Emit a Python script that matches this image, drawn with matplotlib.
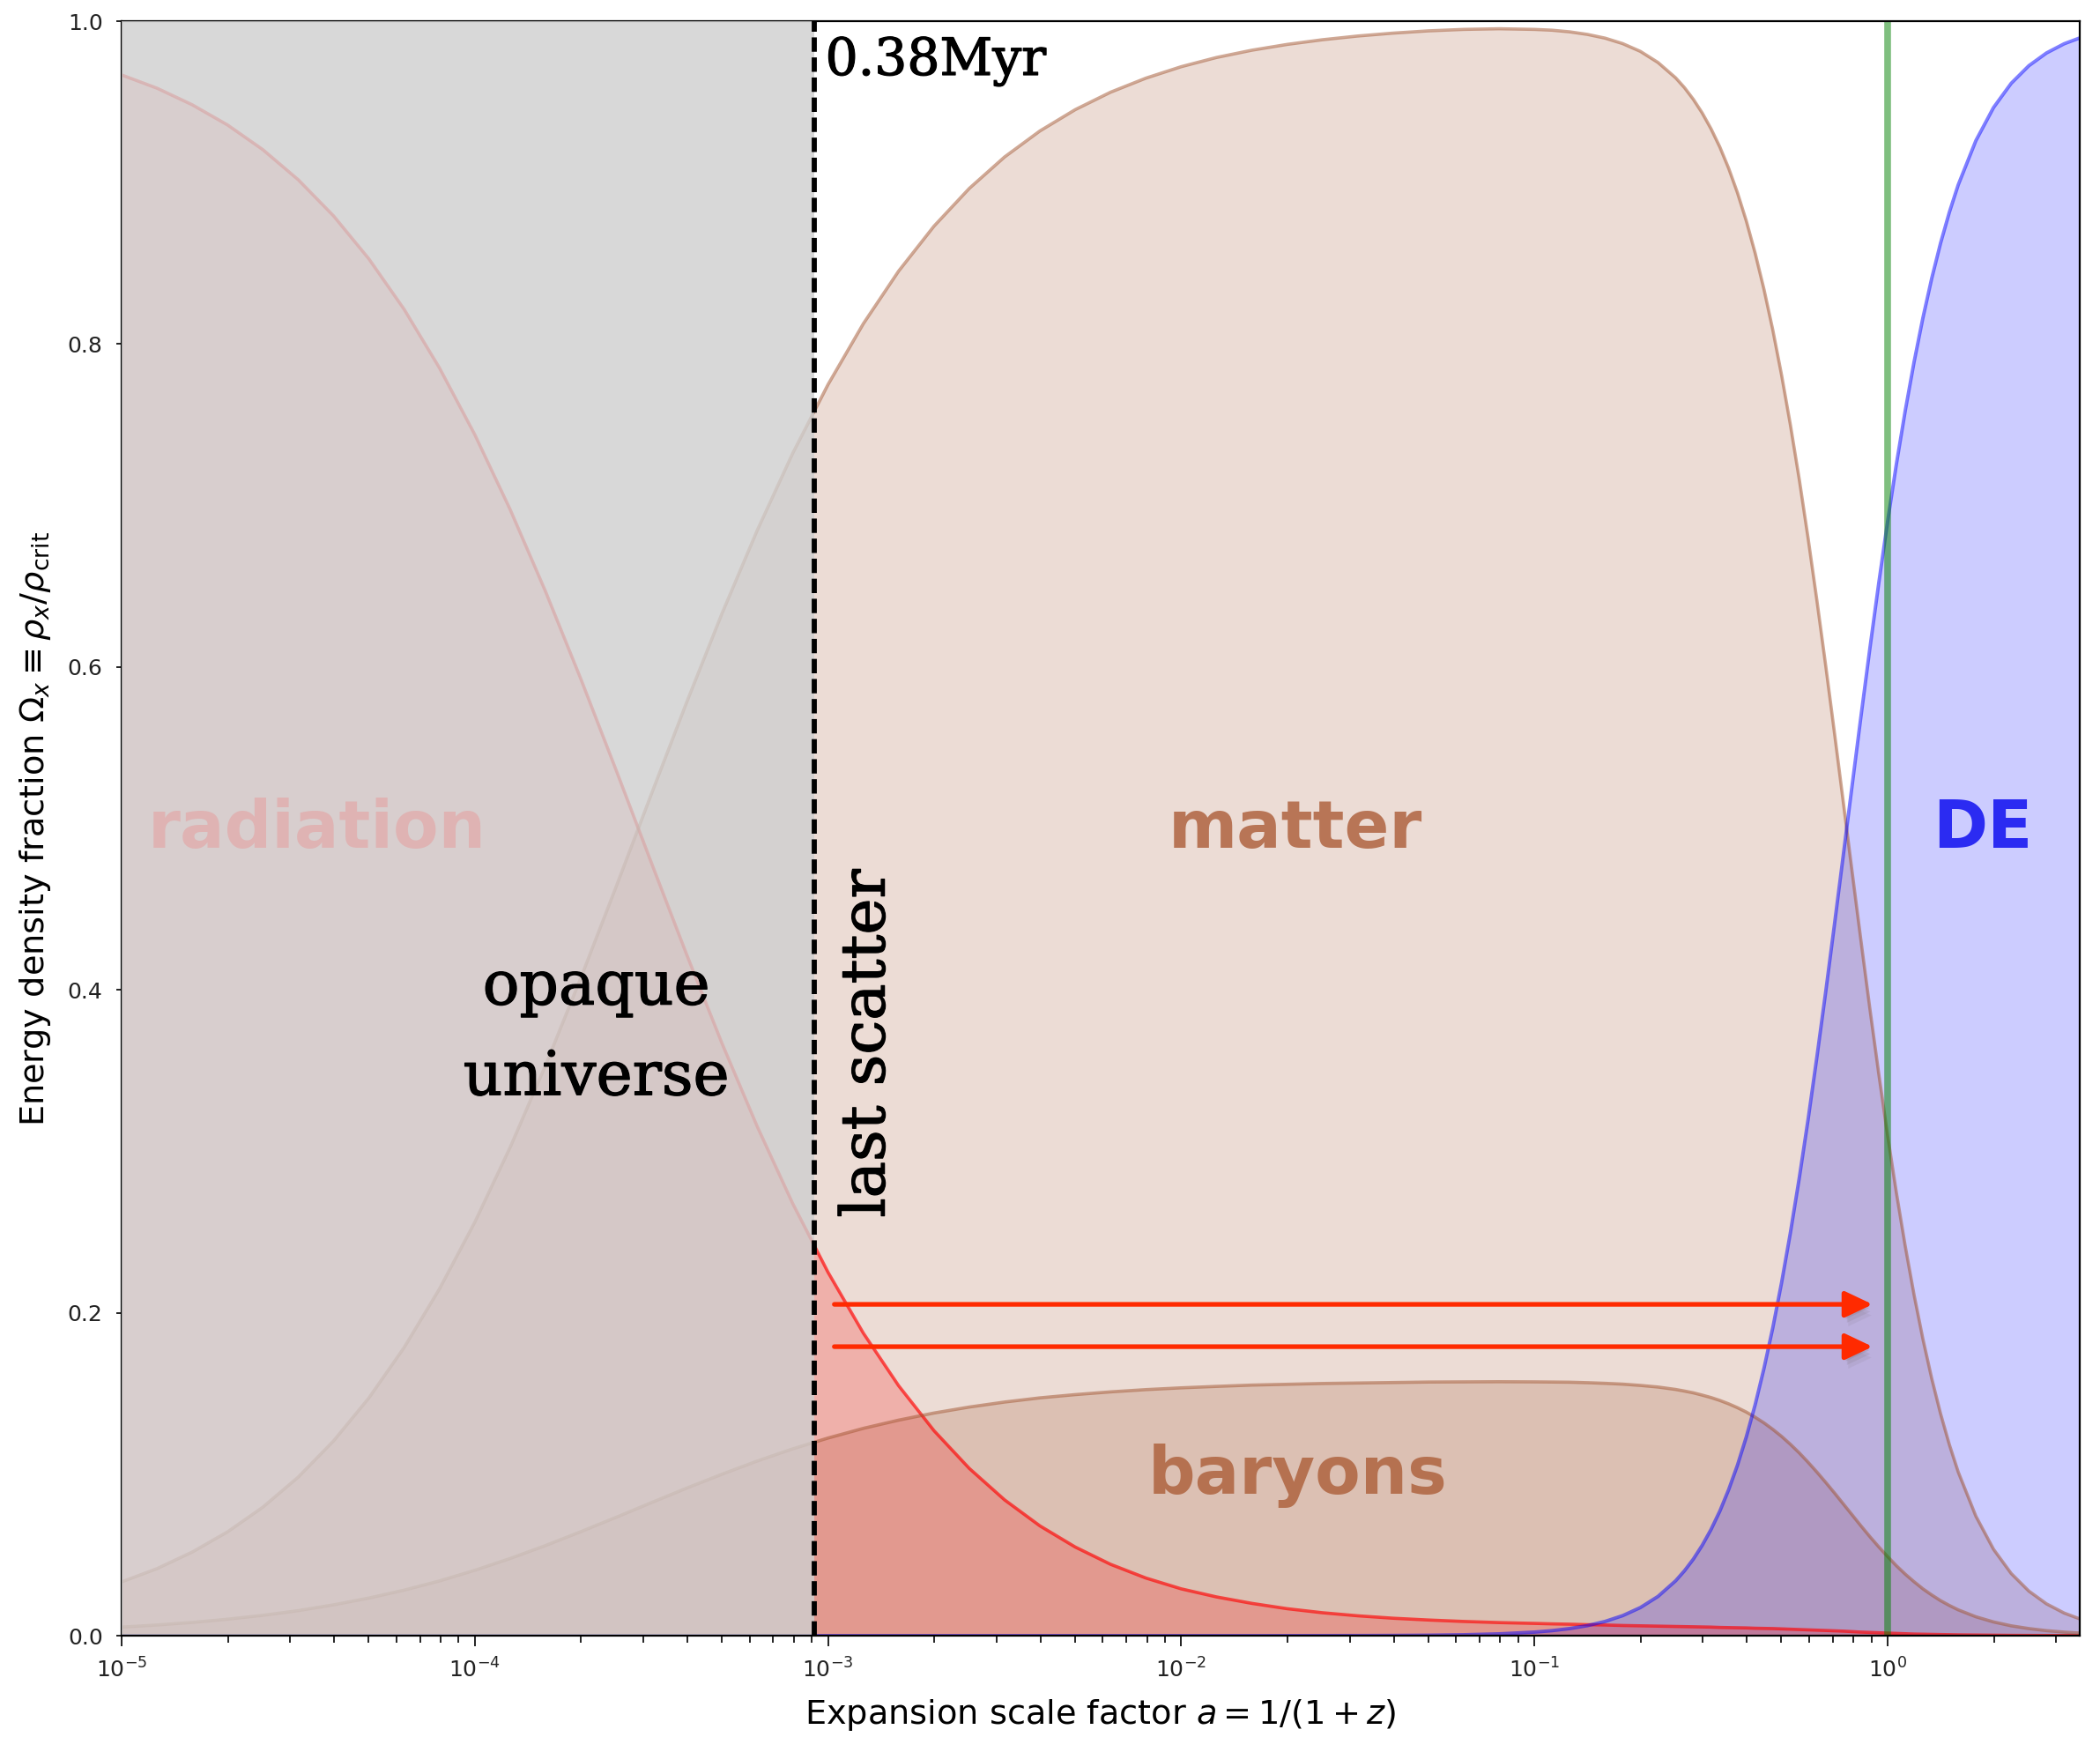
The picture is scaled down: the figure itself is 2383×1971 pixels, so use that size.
import numpy as np
import matplotlib
matplotlib.use("Agg")
import matplotlib.pyplot as plt
import matplotlib.patheffects as pe
from matplotlib.ticker import LogLocator

# ---------------- data ----------------
log_a = [-5.0, -4.9, -4.8, -4.7, -4.6, -4.5, -4.4, -4.3, -4.2, -4.1,
         -4.0, -3.9, -3.8, -3.7, -3.6, -3.5, -3.4, -3.3, -3.2, -3.1,
         -3.0, -2.9, -2.8, -2.7, -2.6, -2.5, -2.4, -2.3, -2.2, -2.1,
         -2.0, -1.9, -1.8, -1.7, -1.6, -1.5, -1.4, -1.3, -1.2, -1.1,
         -1.0, -0.95, -0.9, -0.85, -0.8, -0.75, -0.7, -0.65,
         -0.6, -0.575, -0.55, -0.525, -0.5, -0.475, -0.45, -0.425, -0.4, -0.375,
         -0.35, -0.325, -0.3, -0.275, -0.25, -0.225, -0.2, -0.175, -0.15, -0.125,
         -0.1, -0.075, -0.05, -0.025, 0.0, 0.025, 0.05, 0.075, 0.1, 0.125,
         0.15, 0.175, 0.2,
         0.25, 0.3, 0.35, 0.4, 0.45, 0.5, 0.544]

radiation = [0.9667, 0.9585, 0.9482, 0.9357, 0.9204, 0.9018, 0.8794, 0.8528, 0.8215, 0.7852,
             0.7439, 0.6976, 0.6469, 0.5927, 0.5362, 0.4787, 0.4218, 0.3668, 0.3152, 0.2677,
             0.2251, 0.1874, 0.1548, 0.1270, 0.1036, 0.0841, 0.0680, 0.0549, 0.0442, 0.0357,
             0.0290, 0.0240, 0.0200, 0.0167, 0.0142, 0.0123, 0.0108, 0.0097, 0.0088, 0.0081,
             0.0076, 0.0073, 0.0071, 0.0068, 0.0066, 0.0063, 0.0061, 0.0059,
             0.0057, 0.0056, 0.0055, 0.0054, 0.0053, 0.0051, 0.0050, 0.0049, 0.0048, 0.0046,
             0.0045, 0.0044, 0.0042, 0.0040, 0.0038, 0.0036, 0.0034, 0.0032, 0.0030, 0.0028,
             0.0025, 0.0022, 0.0020, 0.0018, 0.0016, 0.0014, 0.0012, 0.0010, 0.0009, 0.0008,
             0.0007, 0.0006, 0.0005,
             0.0004, 0.0003, 0.0002, 0.00015, 0.0001, 0.0001, 0.00005]

matter = [0.0333, 0.0415, 0.0518, 0.0643, 0.0796, 0.0982, 0.1206, 0.1472, 0.1785, 0.2148,
          0.2561, 0.3024, 0.3531, 0.4073, 0.4638, 0.5213, 0.5782, 0.6332, 0.6848, 0.7323,
          0.7749, 0.8126, 0.8452, 0.8730, 0.8964, 0.9159, 0.9320, 0.9452, 0.9560, 0.9647,
          0.9718, 0.9775, 0.9820, 0.9856, 0.9885, 0.9908, 0.9926, 0.9940, 0.9949, 0.9953,
          0.9949, 0.9944, 0.9934, 0.9918, 0.9895, 0.9861, 0.9813, 0.9744,
          0.9649, 0.9588, 0.9516, 0.9432, 0.9334, 0.9221, 0.9089, 0.8937, 0.8763, 0.8564,
          0.8340, 0.8088, 0.7807, 0.7498, 0.7162, 0.6798, 0.6411, 0.6006, 0.5586, 0.5157,
          0.4725, 0.4299, 0.3882, 0.3481, 0.3100, 0.2743, 0.2413, 0.2111, 0.1838, 0.1593,
          0.1375, 0.1183, 0.1014,
          0.0740, 0.0535, 0.0385, 0.0276, 0.0197, 0.0140, 0.0104]

baryons = [0.0053, 0.0066, 0.0082, 0.0102, 0.0126, 0.0155, 0.0191, 0.0233, 0.0282, 0.0339,
           0.0405, 0.0478, 0.0558, 0.0644, 0.0733, 0.0824, 0.0914, 0.1000, 0.1082, 0.1157,
           0.1224, 0.1284, 0.1335, 0.1379, 0.1416, 0.1447, 0.1473, 0.1493, 0.1510, 0.1524,
           0.1535, 0.1544, 0.1552, 0.1557, 0.1562, 0.1565, 0.1568, 0.1571, 0.1572, 0.1573,
           0.1572, 0.1571, 0.1570, 0.1567, 0.1563, 0.1558, 0.1550, 0.1540,
           0.1525, 0.1515, 0.1504, 0.1490, 0.1475, 0.1457, 0.1436, 0.1412, 0.1385, 0.1353,
           0.1318, 0.1278, 0.1234, 0.1185, 0.1132, 0.1074, 0.1013, 0.0949, 0.0883, 0.0815,
           0.0747, 0.0679, 0.0613, 0.0550, 0.0490, 0.0433, 0.0381, 0.0334, 0.0290, 0.0252,
           0.0217, 0.0187, 0.0160,
           0.0117, 0.0085, 0.0061, 0.0044, 0.0031, 0.0022, 0.0016]

dark_energy = [0.0, 0.0, 0.0, 0.0, 0.0, 0.0, 0.0, 0.0, 0.0, 0.0,
               0.0, 0.0, 0.0, 0.0, 0.0, 0.0, 0.0, 0.0, 0.0, 0.0,
               0.0, 0.0, 0.0, 0.0, 0.0, 0.0, 0.0, 0.0, 0.0, 0.0,
               0.0, 0.0, 0.0, 0.00002, 0.00004, 0.00007, 0.00014, 0.00028, 0.00056, 0.00111,
               0.0022, 0.0031, 0.0044, 0.0062, 0.0088, 0.0124, 0.0174, 0.0243,
               0.0340, 0.0402, 0.0474, 0.0559, 0.0657, 0.0771, 0.0904, 0.1056, 0.1231, 0.1430,
               0.1655, 0.1907, 0.2188, 0.2498, 0.2835, 0.3198, 0.3586, 0.3991, 0.4412, 0.4841,
               0.5273, 0.5700, 0.6117, 0.6519, 0.6900, 0.7257, 0.7587, 0.7889, 0.8162, 0.8407,
               0.8625, 0.8817, 0.8986,
               0.9260, 0.9465, 0.9615, 0.9724, 0.9803, 0.9860, 0.9896]

a_last_scatter = 9.17e-4
a_today = 1.0
arrow_levels = [0.2052, 0.179]
arrow_start, arrow_end = 1.042e-3, 0.907

# ---------------- figure ----------------
W, H, DPI = 2383, 1971, 100
fig = plt.figure(figsize=(W / DPI, H / DPI), dpi=DPI)
ax = fig.add_axes([138 / W, 1 - 1856 / H, (2360 - 138) / W, (1856 - 24) / H])

a = 10 ** np.array(log_a)
sienna = '#a0522d'

ax.fill_between(a, 0, radiation, color='red', alpha=0.2, lw=0, zorder=1.2)
ax.plot(a, radiation, color='red', alpha=0.65, lw=2.6, zorder=1.3)
ax.fill_between(a, 0, matter, color=sienna, alpha=0.2, lw=0, zorder=1.0)
ax.plot(a, matter, color=sienna, alpha=0.5, lw=2.6, zorder=1.3)
ax.fill_between(a, 0, baryons, color=sienna, alpha=0.2, lw=0, zorder=1.1)
ax.plot(a, baryons, color=sienna, alpha=0.5, lw=2.6, zorder=1.3)
ax.fill_between(a, 0, dark_energy, color='blue', alpha=0.2, lw=0, zorder=1.1)
ax.plot(a, dark_energy, color='blue', alpha=0.5, lw=2.8, zorder=1.3)

xmin, xmax = 1e-5, 3.5
ax.set_xscale('log')
ax.set_xlim(xmin, xmax)
ax.set_ylim(0, 1.0)

# grey "opaque" overlay
ax.axvspan(xmin, a_last_scatter, color='#cfcfcf', alpha=0.8, lw=0, zorder=2.55)
ax.axvline(a_last_scatter, color='black', lw=4.2, ls=(0, (2.8, 1.1)), zorder=3)
ax.axvline(a_today, color='green', alpha=0.5, lw=5.5, zorder=2.0)

# arrows with soft shadow
shadow = [pe.SimplePatchShadow(offset=(1.5, -3), shadow_rgbFace='#6e6260', alpha=0.16),
          pe.SimplePatchShadow(offset=(2.5, -6), shadow_rgbFace='#6e6260', alpha=0.13),
          pe.SimplePatchShadow(offset=(3.5, -9), shadow_rgbFace='#6e6260', alpha=0.09),
          pe.Normal()]
for yv in arrow_levels:
    ax.annotate('', xy=(arrow_end, yv), xytext=(arrow_start, yv),
                arrowprops=dict(arrowstyle='-|>,head_length=0.95,head_width=0.45',
                                color='#ff2a00', lw=3.8, shrinkA=0, shrinkB=0,
                                mutation_scale=20, path_effects=shadow),
                zorder=3.5)

# region labels
ax.text(3.58e-5, 0.488, 'radiation', fontsize=54, fontweight='bold', color='#dfb3b3',
        ha='center', va='baseline', zorder=4)
ax.text(0.0211, 0.488, 'matter', fontsize=54, fontweight='bold', color='#b87556',
        ha='center', va='baseline', zorder=4)
ax.text(1.86, 0.488, 'DE', fontsize=54, fontweight='bold', color='#2b2bf2',
        ha='center', va='baseline', zorder=4)
ax.text(0.0214, 0.0879, 'baryons', fontsize=54, fontweight='bold', color='#b57150',
        ha='center', va='baseline', zorder=4)

serif = 'DejaVu Serif'
thick = [pe.withStroke(linewidth=0.9, foreground='black')]
ax.text(2.21e-4, 0.391, 'opaque', fontsize=50, family=serif, color='black',
        ha='center', va='baseline', zorder=4, path_effects=thick)
ax.text(2.21e-4, 0.335, 'universe', fontsize=50, family=serif, color='black',
        ha='center', va='baseline', zorder=4, path_effects=thick)
ax.text(1.294e-3, 0.367, 'last scatter', fontsize=50, family=serif, color='black',
        rotation=90, ha='center', va='center', zorder=4, path_effects=thick)
ax.text(9.83e-4, 0.9667, '0.38Myr', fontsize=42, family=serif, color='black',
        ha='left', va='baseline', zorder=4, path_effects=thick)

# axes styling
ax.set_xlabel(r'Expansion scale factor $a = 1/(1+z)$', fontsize=27.5, labelpad=12)
ax.set_ylabel(r'Energy density fraction $\Omega_x \equiv \rho_x/\rho_{\rm crit}$', fontsize=27.5, labelpad=12)
ax.set_yticks([0.0, 0.2, 0.4, 0.6, 0.8, 1.0])
ax.xaxis.set_major_locator(LogLocator(base=10, numticks=20))
ax.xaxis.set_minor_locator(LogLocator(base=10, subs=np.arange(2, 10), numticks=50))
ax.tick_params(axis='x', which='major', length=8.6, width=1.4, labelsize=18, pad=10, colors='#222222')
ax.tick_params(axis='x', which='minor', length=5.8, width=1.2)
ax.tick_params(axis='y', which='major', length=4.3, width=1.4, labelsize=18, pad=11, colors='#222222')
for s in ax.spines.values():
    s.set_linewidth(1.6)
ax.spines['bottom'].set_zorder(3.2)

fig.savefig('out.png', dpi=DPI)
